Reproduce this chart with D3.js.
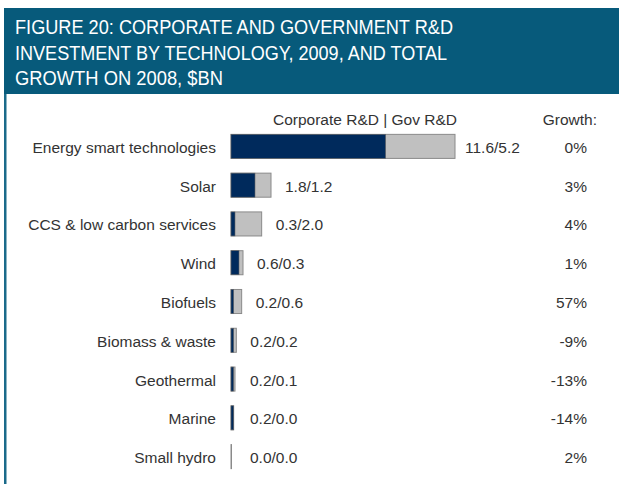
<!DOCTYPE html>
<html><head><meta charset="utf-8">
<script src="https://cdn.jsdelivr.net/npm/d3@7"></script>
<style>body{margin:0;background:#fff}svg{display:block}text{font-family:"Liberation Sans",Arial,sans-serif}</style>
</head><body>
<script>
const titleLines = ["FIGURE 20: CORPORATE AND GOVERNMENT R&D","INVESTMENT BY TECHNOLOGY, 2009, AND TOTAL","GROWTH ON 2008, $BN"];
const categories = ["Energy smart technologies","Solar","CCS & low carbon services","Wind","Biofuels","Biomass & waste","Geothermal","Marine","Small hydro"];
const corporate = [11.6,1.8,0.3,0.6,0.2,0.2,0.2,0.2,0.0];
const government = [5.2,1.2,2.0,0.3,0.6,0.2,0.1,0.0,0.0];
const growth = ["0%","3%","4%","1%","57%","-9%","-13%","-14%","2%"];

const W=619,H=484;
const svg=d3.select("body").append("svg").attr("width",W).attr("height",H);

// title box
svg.append("rect").attr("x",4).attr("y",8).attr("width",W-4).attr("height",86).attr("fill","#075a7b");
svg.append("rect").attr("x",4).attr("y",94).attr("width",2.5).attr("height",H-94).attr("fill","#1a6a8a");
const tw=[438,432,208];
titleLines.forEach((t,i)=>{
  svg.append("text").attr("x",15).attr("y",34+i*25.5).attr("fill","#fff").attr("font-size",19.5)
    .attr("textLength",tw[i]).attr("lengthAdjust","spacingAndGlyphs").text(t);
});

const fs=15.5, col="#333";
const x0=231;
const x=d3.scaleLinear().domain([0,16.8]).range([0,224]);
const y=d3.scaleBand().domain(categories).range([127,476]).paddingInner(0.38).paddingOuter(0.19);
const bh=y.bandwidth();

svg.append("text").attr("x",365).attr("y",125).attr("text-anchor","middle").attr("font-size",fs).attr("fill",col).text("Corporate R&D | Gov R&D");
svg.append("text").attr("x",597).attr("y",125).attr("text-anchor","end").attr("font-size",fs).attr("fill",col).text("Growth:");

const g=svg.append("g");
categories.forEach((c,i)=>{
  const yy=y(c), cy=yy+bh/2;
  const wc=Math.max(x(corporate[i]),corporate[i]>0?2:0);
  const wg=x(government[i]);
  const total=Math.max(wc+wg,0.5);
  g.append("rect").attr("x",x0).attr("y",yy).attr("width",total).attr("height",bh)
   .attr("fill","#c0c0c0").attr("stroke","#8a8a8a").attr("stroke-width",1);
  if(wc>0) g.append("rect").attr("x",x0).attr("y",yy).attr("width",wc).attr("height",bh)
   .attr("fill","#002a5c").attr("stroke","#666").attr("stroke-width",0.6);
  g.append("text").attr("x",216).attr("y",cy+6.5).attr("text-anchor","end").attr("font-size",fs).attr("fill",col).text(c);
  const lx=i===0?x0+total+10:x0+Math.max(total,5)+14;
  g.append("text").attr("x",lx).attr("y",cy+6.5).attr("font-size",fs).attr("fill",col)
   .text(d3.format(".1f")(corporate[i])+"/"+d3.format(".1f")(government[i]));
  g.append("text").attr("x",587).attr("y",cy+6.5).attr("text-anchor","end").attr("font-size",fs).attr("fill",col).text(growth[i]);
});
</script>
</body></html>
